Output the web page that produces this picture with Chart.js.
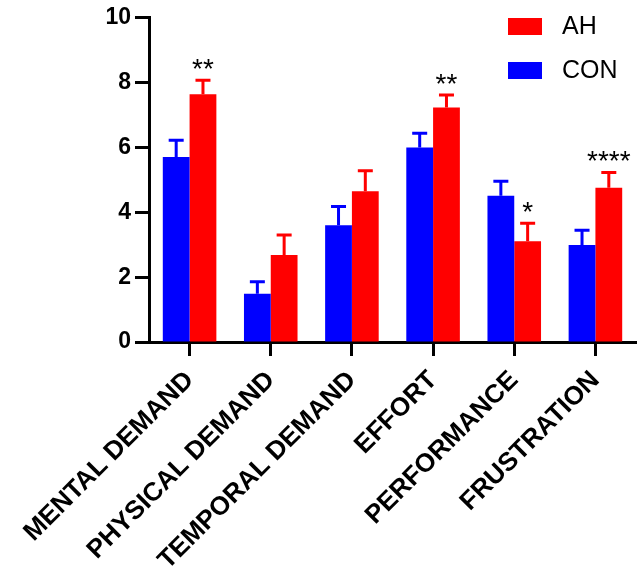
<!DOCTYPE html>
<html>
<head>
<meta charset="utf-8">
<script src="https://cdn.jsdelivr.net/npm/chart.js@4.4.1/dist/chart.umd.min.js"></script>
<style>
  html, body { margin: 0; padding: 0; background: #fff; }
  #wrap { width: 638px; height: 571px; position: relative; }
</style>
</head>
<body>
<div id="wrap"><canvas id="nasaChart"></canvas></div>
<script>
// NASA-TLX subscales, CON vs AH (mean + SEM, upper bars only)
const categories = ["MENTAL DEMAND", "PHYSICAL DEMAND", "TEMPORAL DEMAND", "EFFORT", "PERFORMANCE", "FRUSTRATION"];
const conMeans = [5.71, 1.49, 3.60, 6.00, 4.51, 2.99];
const conErrors = [0.51, 0.37, 0.58, 0.44, 0.45, 0.46];
const ahMeans = [7.64, 2.68, 4.65, 7.23, 3.11, 4.76];
const ahErrors = [0.43, 0.62, 0.63, 0.39, 0.55, 0.47];
const sigMarks = ["**", "", "", "**", "*", "****"];
const yTicks = [0, 2, 4, 6, 8, 10];

const FONT = "'Liberation Sans', Arial, sans-serif";

// draws upper error bars, significance stars and the stacked legend
const extrasPlugin = {
    id: 'extras',
    afterDatasetsDraw(chart) {
        const ctx = chart.ctx;
        const y = chart.scales.y;
        ctx.save();
        ctx.lineWidth = 3;
        chart.data.datasets.forEach((ds, di) => {
            const meta = chart.getDatasetMeta(di);
            meta.data.forEach((bar, i) => {
                const top = y.getPixelForValue(ds.data[i] + ds.errors[i]);
                const base = y.getPixelForValue(ds.data[i]);
                ctx.strokeStyle = ds.backgroundColor;
                ctx.beginPath();
                ctx.moveTo(bar.x, base);
                ctx.lineTo(bar.x, top);
                ctx.moveTo(bar.x - 7.5, top);
                ctx.lineTo(bar.x + 7.5, top);
                ctx.stroke();
            });
        });

        // stars above the AH bars
        const ahIdx = chart.data.datasets.findIndex(d => d.label === 'AH');
        const ahMeta = chart.getDatasetMeta(ahIdx);
        ctx.fillStyle = '#000';
        ctx.font = `28px ${FONT}`;
        ctx.textAlign = 'center';
        ctx.textBaseline = 'alphabetic';
        sigMarks.forEach((mark, i) => {
            if (!mark) return;
            const bar = ahMeta.data[i];
            const top = y.getPixelForValue(ahMeans[i] + ahErrors[i]);
            ctx.fillText(mark, bar.x, top - 2);
        });

        // legend, AH on top
        const entries = chart.data.datasets.slice().reverse();
        ctx.font = `25px ${FONT}`;
        ctx.textAlign = 'left';
        ctx.textBaseline = 'middle';
        entries.forEach((ds, k) => {
            const ly = 18 + k * 44;
            ctx.fillStyle = ds.backgroundColor;
            ctx.fillRect(508, ly, 34, 17);
            ctx.fillStyle = '#000';
            ctx.fillText(ds.label, 562, ly + 9);
        });
        ctx.restore();
    }
};

new Chart(document.getElementById('nasaChart').getContext('2d'), {
    type: 'bar',
    data: {
        labels: categories,
        datasets: [
            { label: 'CON', data: conMeans, errors: conErrors, backgroundColor: '#0000ff' },
            { label: 'AH', data: ahMeans, errors: ahErrors, backgroundColor: '#ff0000' }
        ]
    },
    options: {
        responsive: true,
        maintainAspectRatio: false,
        animation: false,
        categoryPercentage: 0.66,
        barPercentage: 1.0,
        layout: { padding: { top: 11, right: 2, bottom: 0, left: 0 } },
        plugins: { legend: { display: false }, tooltip: { enabled: false } },
        scales: {
            x: {
                afterFit(scale) { scale.height = 229; },
                grid: { offset: false, drawOnChartArea: false, drawTicks: true, tickLength: 14, tickWidth: 3, tickColor: '#000' },
                border: { color: '#000', width: 3 },
                ticks: {
                    color: '#000',
                    font: { family: FONT, size: 26, weight: 'bold' },
                    minRotation: 45,
                    maxRotation: 45,
                    padding: 9
                }
            },
            y: {
                min: 0,
                max: 10,
                afterBuildTicks(scale) { scale.ticks = yTicks.map(v => ({ value: v })); },
                afterFit(scale) { scale.width = 149; },
                grid: { drawOnChartArea: false, drawTicks: true, tickLength: 14, tickWidth: 3, tickColor: '#000' },
                border: { color: '#000', width: 3 },
                ticks: {
                    color: '#000',
                    font: { family: FONT, size: 23, weight: 'bold' },
                    padding: 4
                }
            }
        }
    },
    plugins: [extrasPlugin]
});
</script>
</body>
</html>
